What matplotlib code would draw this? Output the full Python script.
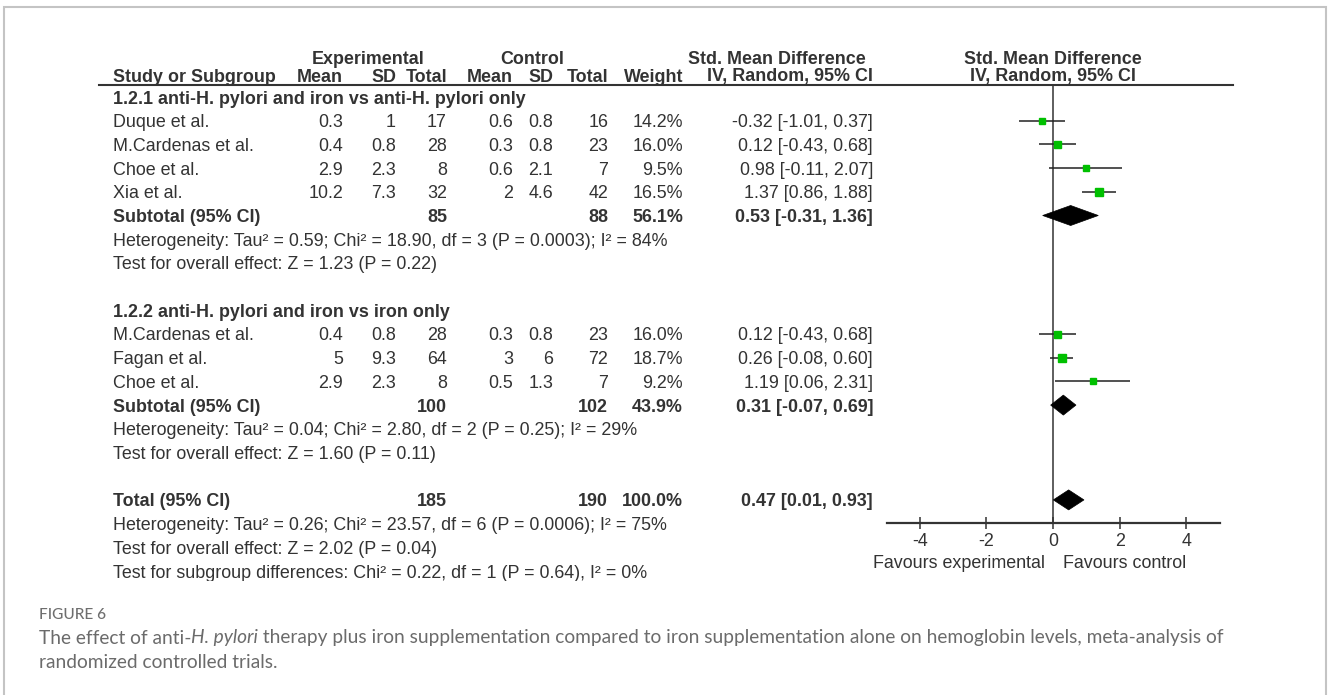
import numpy as np
import matplotlib
matplotlib.use("Agg")
import matplotlib.pyplot as plt
from matplotlib.patches import Polygon

plt.rcParams['axes.unicode_minus'] = False

# ---------------- data ----------------
group_titles = ["1.2.1 anti-H. pylori and iron vs anti-H. pylori only",
                "1.2.2 anti-H. pylori and iron vs iron only"]
study_group = [0, 0, 0, 0, 1, 1, 1]
studies = ["Duque et al.", "M.Cardenas et al.", "Choe et al.", "Xia et al.",
           "M.Cardenas et al.", "Fagan et al.", "Choe et al."]
exp_mean = [0.3, 0.4, 2.9, 10.2, 0.4, 5, 2.9]
exp_sd = [1, 0.8, 2.3, 7.3, 0.8, 9.3, 2.3]
exp_n = [17, 28, 8, 32, 28, 64, 8]
ctl_mean = [0.6, 0.3, 0.6, 2, 0.3, 3, 0.5]
ctl_sd = [0.8, 0.8, 2.1, 4.6, 0.8, 6, 1.3]
ctl_n = [16, 23, 7, 42, 23, 72, 7]
weight = [14.2, 16.0, 9.5, 16.5, 16.0, 18.7, 9.2]
smd = [-0.32, 0.12, 0.98, 1.37, 0.12, 0.26, 1.19]
ci_lo = [-1.01, -0.43, -0.11, 0.86, -0.43, -0.08, 0.06]
ci_hi = [0.37, 0.68, 2.07, 1.88, 0.68, 0.60, 2.31]

sub_exp_n = [85, 100]
sub_ctl_n = [88, 102]
sub_weight = [56.1, 43.9]
sub_smd = [0.53, 0.31]
sub_lo = [-0.31, -0.07]
sub_hi = [1.36, 0.69]
sub_het = ["Heterogeneity: Tau² = 0.59; Chi² = 18.90, df = 3 (P = 0.0003); I² = 84%",
           "Heterogeneity: Tau² = 0.04; Chi² = 2.80, df = 2 (P = 0.25); I² = 29%"]
sub_effect = ["Test for overall effect: Z = 1.23 (P = 0.22)",
              "Test for overall effect: Z = 1.60 (P = 0.11)"]

tot_exp_n = 185
tot_ctl_n = 190
tot_weight = 100.0
tot_smd = 0.47
tot_lo = 0.01
tot_hi = 0.93
tot_het = "Heterogeneity: Tau² = 0.26; Chi² = 23.57, df = 6 (P = 0.0006); I² = 75%"
tot_effect = "Test for overall effect: Z = 2.02 (P = 0.04)"
subgroup_diff = "Test for subgroup differences: Chi² = 0.22, df = 1 (P = 0.64), I² = 0%"

x_ticks = [-4, -2, 0, 2, 4]
x_range = [-5, 5]
favours = ["Favours experimental", "Favours control"]

caption_label = "FIGURE 6"
caption_parts = [("The effect of anti-", "normal"), ("H. pylori", "italic"),
                 (" therapy plus iron supplementation compared to iron supplementation alone on hemoglobin levels, meta-analysis of", "normal")]
caption_line2 = "randomized controlled trials."

# ---------------- layout / style ----------------
W, H = 1328, 695
TF = ["Liberation Sans", "DejaVu Sans"]
CF = ["Lato", "DejaVu Sans"]
TC = "#333333"
GREEN = "#00c000"

fig = plt.figure(figsize=(W / 100, H / 100), dpi=100)
fig.patch.set_facecolor("white")
renderer = fig.canvas.get_renderer()


def text_width(s, size, **kw):
    t = fig.text(0, 0, s, fontsize=size, **kw)
    w = t.get_window_extent(renderer).width
    t.remove()
    return w


FS = 12 * 555 / text_width(sub_het[0], 12, family=TF)
CAP_FS = 12 * 1188 / sum(text_width(s, 12, family=CF, style=st) for s, st in caption_parts)

Y0, DY = 97.0, 23.7
TXT_DY = 2.0
def rowy(r):
    return Y0 + r * DY

CLIP_Y = rowy(20) + TXT_DY + 7.5

# full-figure pixel axes
axp = fig.add_axes([0, 0, 1, 1])
axp.set_xlim(0, W)
axp.set_ylim(H, 0)
axp.axis("off")

# table axes (clipped at bottom, as in the source image)
axt = fig.add_axes([0, 1 - CLIP_Y / H, 1, CLIP_Y / H])
axt.set_xlim(0, W)
axt.set_ylim(CLIP_Y, 0)
axt.axis("off")

# frame
axp.plot([4, 4, 1326, 1326], [H, 7, 7, H], color="#c4c4c4", lw=1.5, solid_joinstyle="miter")

X_NAME = 113
X_EM, X_ESD, X_EN = 343, 396, 447
X_CM, X_CSD, X_CN = 513, 553, 608
X_W, X_CI = 683, 873


def T(x, y, s, ha="left", bold=False):
    axt.text(x, y, s, ha=ha, va="center", fontsize=FS, family=TF, color=TC,
             fontweight="bold" if bold else "normal", clip_on=True)


# headers
T(368, 60, "Experimental", ha="center", bold=True)
T(532, 60, "Control", ha="center", bold=True)
T(866, 60, "Std. Mean Difference", ha="right", bold=True)
T(1053, 60, "Std. Mean Difference", ha="center", bold=True)
T(X_NAME, 77, "Study or Subgroup", bold=True)
for x, s in [(X_EM, "Mean"), (X_ESD, "SD"), (X_EN, "Total"), (X_CM, "Mean"),
             (X_CSD, "SD"), (X_CN, "Total"), (X_W, "Weight"), (X_CI, "IV, Random, 95% CI")]:
    T(x, 77, s, ha="right", bold=True)
T(1053, 77, "IV, Random, 95% CI", ha="center", bold=True)
axp.plot([99, 1233], [84.5, 84.5], color="#333333", lw=1.5)

# forest axes: x data units, y pixel units
AX_TOP, AX_BOT = 84, 523
axf = fig.add_axes([886.5 / W, 1 - AX_BOT / H, 333 / W, (AX_BOT - AX_TOP) / H])
axf.set_xlim(*x_range)
axf.set_ylim(AX_BOT, AX_TOP)
axf.patch.set_alpha(0)
for sp in ["top", "right", "left"]:
    axf.spines[sp].set_visible(False)
axf.spines["bottom"].set_linewidth(1.6)
axf.spines["bottom"].set_color("#333333")
axf.set_yticks([])
axf.set_xticks(x_ticks)
axf.set_xticklabels([str(v) for v in x_ticks], family=TF, fontsize=FS, color=TC)
axf.tick_params(axis="x", direction="inout", length=9, width=1.1, color="#333333", pad=3)
axf.axvline(0, color="#333333", lw=1.1, zorder=1)


def diamond(y, est, lo, hi, h=10):
    axf.add_patch(Polygon([[lo, y], [est, y - h], [hi, y], [est, y + h]],
                          closed=True, facecolor="black", edgecolor="black", lw=0.5, zorder=3))


r = 0
for g in range(2):
    T(X_NAME, rowy(r) + TXT_DY, group_titles[g], bold=True)
    r += 1
    idx = [i for i, sg in enumerate(study_group) if sg == g]
    for i in idx:
        y = rowy(r)
        yt = y + TXT_DY
        T(X_NAME, yt, studies[i])
        T(X_EM, yt, f"{exp_mean[i]:g}", ha="right")
        T(X_ESD, yt, f"{exp_sd[i]:g}", ha="right")
        T(X_EN, yt, f"{exp_n[i]}", ha="right")
        T(X_CM, yt, f"{ctl_mean[i]:g}", ha="right")
        T(X_CSD, yt, f"{ctl_sd[i]:g}", ha="right")
        T(X_CN, yt, f"{ctl_n[i]}", ha="right")
        T(X_W, yt, f"{weight[i]:.1f}%", ha="right")
        T(X_CI, yt, f"{smd[i]:.2f} [{ci_lo[i]:.2f}, {ci_hi[i]:.2f}]", ha="right")
        axf.hlines(y, ci_lo[i], ci_hi[i], color="#222222", lw=1.1, zorder=2)
        axf.plot([smd[i]], [y], marker="s", color=GREEN, mec=GREEN,
                 ms=1.75 * np.sqrt(weight[i]) * 0.72, zorder=4)
        r += 1
    y = rowy(r)
    yt = y + TXT_DY
    T(X_NAME, yt, "Subtotal (95% CI)", bold=True)
    T(X_EN, yt, f"{sub_exp_n[g]}", ha="right", bold=True)
    T(X_CN, yt, f"{sub_ctl_n[g]}", ha="right", bold=True)
    T(X_W, yt, f"{sub_weight[g]:.1f}%", ha="right", bold=True)
    T(X_CI, yt, f"{sub_smd[g]:.2f} [{sub_lo[g]:.2f}, {sub_hi[g]:.2f}]", ha="right", bold=True)
    diamond(y, sub_smd[g], sub_lo[g], sub_hi[g])
    r += 1
    T(X_NAME, rowy(r) + TXT_DY, sub_het[g]); r += 1
    T(X_NAME, rowy(r) + TXT_DY, sub_effect[g]); r += 1
    r += 1

y = rowy(r)
yt = y + TXT_DY
T(X_NAME, yt, "Total (95% CI)", bold=True)
T(X_EN, yt, f"{tot_exp_n}", ha="right", bold=True)
T(X_CN, yt, f"{tot_ctl_n}", ha="right", bold=True)
T(X_W, yt, f"{tot_weight:.1f}%", ha="right", bold=True)
T(X_CI, yt, f"{tot_smd:.2f} [{tot_lo:.2f}, {tot_hi:.2f}]", ha="right", bold=True)
diamond(y, tot_smd, tot_lo, tot_hi)
r += 1
T(X_NAME, rowy(r) + TXT_DY, tot_het); r += 1
T(X_NAME, rowy(r) + TXT_DY, tot_effect); r += 1
T(X_NAME, rowy(r) + TXT_DY, subgroup_diff)

# favours labels
T(1045, 563, favours[0], ha="right")
T(1063, 563, favours[1], ha="left")

# caption
axp.text(39, 615, caption_label, ha="left", va="center", fontsize=CAP_FS * 0.8,
         family=CF, color="#6e6e6e", fontweight="medium")
x = 39
for s, st in caption_parts:
    t = axp.text(x, 638, s, ha="left", va="center", fontsize=CAP_FS, family=CF,
                 style=st, color="#6b6b6b")
    x += t.get_window_extent(renderer).width
axp.text(39, 662, caption_line2, ha="left", va="center", fontsize=CAP_FS, family=CF,
         color="#6b6b6b")

fig.savefig("out.png", dpi=100, facecolor="white")
